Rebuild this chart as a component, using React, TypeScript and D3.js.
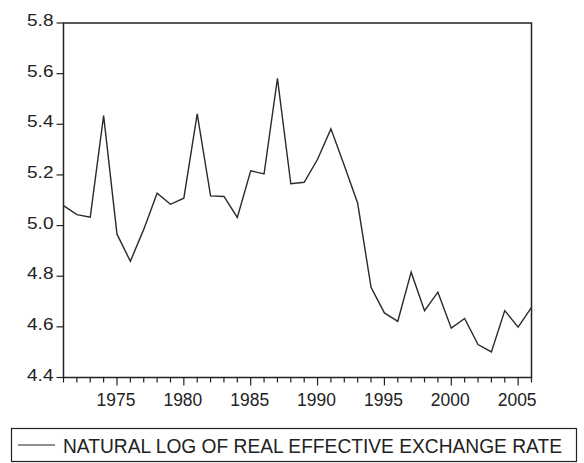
import * as d3 from 'd3';
import { useEffect, useRef } from 'react';

const years = [
    1971, 1972, 1973, 1974, 1975, 1976, 1977, 1978, 1979, 1980, 1981, 1982,
    1983, 1984, 1985, 1986, 1987, 1988, 1989, 1990, 1991, 1992, 1993, 1994,
    1995, 1996, 1997, 1998, 1999, 2000, 2001, 2002, 2003, 2004, 2005, 2006,
];
const lnReer = [
    5.079, 5.043, 5.033, 5.434, 4.966, 4.859, 4.985, 5.128, 5.084, 5.108, 5.441, 5.117,
    5.115, 5.032, 5.216, 5.204, 5.581, 5.165, 5.171, 5.262, 5.382, 5.237, 5.088, 4.756,
    4.655, 4.622, 4.816, 4.664, 4.737, 4.595, 4.633, 4.530, 4.501, 4.664, 4.599, 4.677,
];
const yTicks = [4.4, 4.6, 4.8, 5.0, 5.2, 5.4, 5.6, 5.8];
const xLabels = [1975, 1980, 1985, 1990, 1995, 2000, 2005];
const legendLabel = 'NATURAL LOG OF REAL EFFECTIVE EXCHANGE RATE';

export default function App() {
    const chartRef = useRef<SVGSVGElement | null>(null);

    useEffect(() => {
        if (!chartRef.current) return;
        const svg = d3.select(chartRef.current);
        svg.selectAll('*').remove();

        const width = 584;
        const height = 463;
        const plot = { left: 63.5, right: 531.5, top: 23, bottom: 377.5 };
        const ink = '#222';
        const font = 'Arial, "Liberation Sans", Helvetica, sans-serif';

        svg.attr('viewBox', `0 0 ${width} ${height}`);

        const x = d3.scaleLinear().domain([1971, 2006]).range([plot.left, plot.right]);
        const y = d3.scaleLinear().domain([4.4, 5.8]).range([plot.bottom, plot.top]);

        // 外框
        svg.append('rect')
            .attr('x', plot.left)
            .attr('y', plot.top)
            .attr('width', plot.right - plot.left)
            .attr('height', plot.bottom - plot.top)
            .attr('fill', 'none')
            .attr('stroke', ink)
            .attr('stroke-width', 1.5);

        // Y 軸刻度
        const yg = svg.append('g');
        yg.selectAll('line')
            .data(yTicks)
            .join('line')
            .attr('x1', plot.left - 7)
            .attr('x2', plot.left)
            .attr('y1', (d) => y(d))
            .attr('y2', (d) => y(d))
            .attr('stroke', ink)
            .attr('stroke-width', 1.2);
        yg.selectAll('text')
            .data(yTicks)
            .join('text')
            .attr('transform', (d) => `translate(${plot.left - 10},${y(d) + 3}) scale(1.12,1)`)
            .attr('text-anchor', 'end')
            .attr('font-family', font)
            .attr('font-size', 17)
            .attr('fill', ink)
            .text((d) => d.toFixed(1));

        // X 軸刻度（每年一格）
        const xg = svg.append('g');
        xg.selectAll('line')
            .data(years)
            .join('line')
            .attr('x1', (d) => x(d))
            .attr('x2', (d) => x(d))
            .attr('y1', plot.bottom)
            .attr('y2', (d) => plot.bottom + (d % 5 === 0 ? 8 : 5))
            .attr('stroke', ink)
            .attr('stroke-width', 1.2);
        xg.selectAll('text')
            .data(xLabels)
            .join('text')
            .attr('transform', (d) => `translate(${x(d) - 1},406) scale(0.92,1)`)
            .attr('text-anchor', 'middle')
            .attr('font-family', font)
            .attr('font-size', 19)
            .attr('fill', ink)
            .text((d) => d);

        // 折線
        const line = d3
            .line<number>()
            .x((_, i) => x(years[i]))
            .y((d) => y(d));
        svg.append('path')
            .datum(lnReer)
            .attr('d', line)
            .attr('fill', 'none')
            .attr('stroke', '#2a2a2a')
            .attr('stroke-width', 1.4)
            .attr('stroke-linejoin', 'miter');

        // 圖例
        const lg = svg.append('g');
        lg.append('rect')
            .attr('x', 11.5)
            .attr('y', 428.5)
            .attr('width', 565)
            .attr('height', 33)
            .attr('fill', 'none')
            .attr('stroke', ink)
            .attr('stroke-width', 1.2);
        lg.append('line')
            .attr('x1', 18)
            .attr('x2', 55)
            .attr('y1', 445)
            .attr('y2', 445)
            .attr('stroke', ink)
            .attr('stroke-width', 1.2);
        lg.append('text')
            .attr('x', 63)
            .attr('y', 452.5)
            .attr('font-family', font)
            .attr('font-size', 20)
            .attr('textLength', 499)
            .attr('lengthAdjust', 'spacingAndGlyphs')
            .attr('fill', ink)
            .text(legendLabel);
    }, []);

    return (
        <svg
            ref={chartRef}
            width={584}
            height={463}
            style={{ position: 'absolute', left: 0, top: 0, background: '#fff' }}
        />
    );
}
